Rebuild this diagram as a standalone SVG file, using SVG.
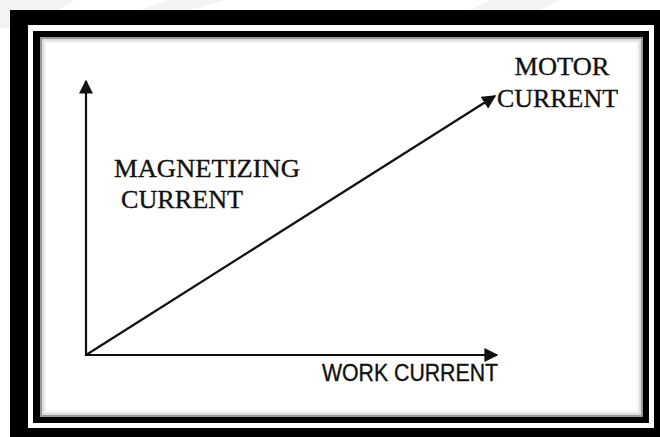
<svg xmlns="http://www.w3.org/2000/svg" width="660" height="437" viewBox="0 0 660 437">
<defs>
<style>
.ax{stroke:#111;stroke-width:2.2;fill:none}
.serif{font-family:"Liberation Serif","DejaVu Serif",serif;font-size:26px;fill:#111;stroke:#111;stroke-width:0.35}
.sans{font-family:"Liberation Sans","DejaVu Sans",sans-serif;font-size:23px;fill:#111;stroke:#111;stroke-width:0.35}
</style>
<marker id="ahb" viewBox="0 0 10 10" refX="9" refY="5" markerWidth="14" markerHeight="14" markerUnits="userSpaceOnUse" orient="auto">
<path d="M0,0 L10,5 L0,10 Z" fill="#111"/>
</marker>
</defs>
<rect width="660" height="437" fill="#fff"/>
<g id="watermark" fill="#f3f3f3">
<polygon points="0,0 75,0 30,28 0,28"/>
<polygon points="170,0 225,0 190,10 140,10"/>
<polygon points="490,0 560,0 540,10 470,10"/>
</g>
<g id="frame">
<rect x="10" y="10" width="650" height="427" fill="#000"/>
<rect x="28" y="25" width="626" height="403" fill="#fff"/>
<rect x="33" y="31" width="616" height="392" fill="#000"/>
<rect x="40" y="37" width="603" height="380" fill="#fff"/>
<rect x="41" y="38" width="601" height="378" fill="none" stroke="#999" stroke-width="2"/>
<rect x="43" y="40" width="597" height="374" fill="none" stroke="#ddd" stroke-width="2"/>
<rect x="45" y="42" width="593" height="370" fill="none" stroke="#f2f2f2" stroke-width="2"/>
</g>
<g id="connectors">
<line class="ax" x1="86" y1="356" x2="86" y2="81" marker-end="url(#ahb)"/>
<line class="ax" x1="85" y1="355" x2="497" y2="355" marker-end="url(#ahb)"/>
<line class="ax" x1="86" y1="355" x2="495" y2="96" marker-end="url(#ahb)"/>
</g>
<g id="motor-current">
<text class="serif" x="562" y="75" text-anchor="middle" textLength="95" lengthAdjust="spacingAndGlyphs">MOTOR</text>
<text class="serif" x="497" y="107" textLength="121" lengthAdjust="spacingAndGlyphs">CURRENT</text>
</g>
<g id="magnetizing-current">
<text class="serif" x="114" y="177" textLength="186" lengthAdjust="spacingAndGlyphs">MAGNETIZING</text>
<text class="serif" x="121" y="208" textLength="122" lengthAdjust="spacingAndGlyphs">CURRENT</text>
</g>
<g id="work-current">
<text class="sans" x="322" y="381" textLength="176" lengthAdjust="spacingAndGlyphs">WORK CURRENT</text>
</g>
</svg>
